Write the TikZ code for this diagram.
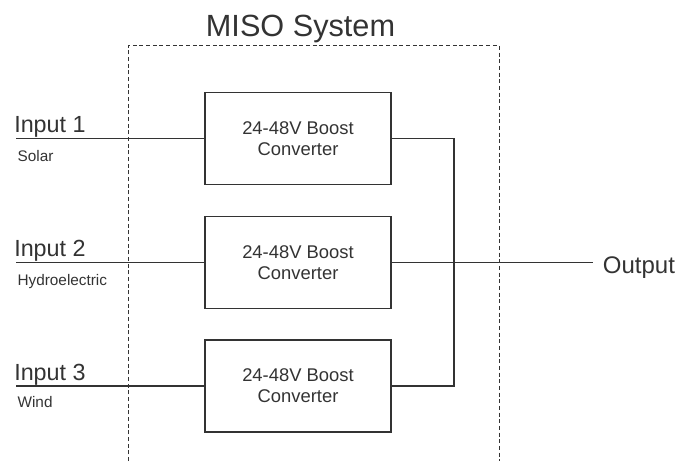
\documentclass[tikz,border=0pt]{standalone}
\usepackage{fontspec}
\setmainfont{Liberation Sans}
\usepackage{tikz}
\usetikzlibrary{positioning}
\definecolor{ink}{HTML}{333333}
\tikzstyle{block} = [draw=ink, line width=1pt, rectangle, minimum width=139.5pt, minimum height=69pt, inner sep=0pt, align=center, text=ink, font=\fontsize{13.8}{15.75}\selectfont]
\tikzstyle{wire} = [draw=ink, line width=1pt]
\tikzstyle{frame} = [draw=ink, line width=0.75pt, dash pattern=on 3pt off 2pt]
\tikzstyle{inlabel} = [anchor=base west, inner sep=0pt, text=ink, font=\fontsize{17.5}{21}\selectfont]
\tikzstyle{source} = [anchor=base west, inner sep=0pt, text=ink, font=\fontsize{11.5}{14}\selectfont]
\newcommand{\boost}{24-48V Boost\\Converter}

\begin{document}
\begin{tikzpicture}[x=0.75pt, y=-0.75pt]
  \useasboundingbox (0,0) rectangle (680,461);

  % system boundary, open at the bottom
  \node[anchor=base, inner sep=0pt, text=ink, font=\fontsize{23}{28}\selectfont] (title) at (300.5,36.7) {MISO System};
  \draw[frame] (128.3,461) |- (499,45.5) -- (499,461);

  % converters
  \node[block] (conv1) at (298,138.5) {\boost};
  \node[block, below=22.8pt of conv1] (conv2) {\boost};
  \node[block, below=22.8pt of conv2] (conv3) {\boost};

  % inputs
  \coordinate (in1) at (16,138.5);
  \coordinate (in2) at (in1 |- conv2.west);
  \coordinate (in3) at (in1 |- conv3.west);
  \draw[wire] (in1) -- (conv1.west);
  \draw[wire] (in2) -- (conv2.west);
  \draw[wire] (in3) -- (conv3.west);
  \node[inlabel] (lab1) at ([xshift=-1.5pt, yshift=4.2pt]in1) {Input 1};
  \node[inlabel] (lab2) at ([xshift=-1.5pt, yshift=4.2pt]in2) {Input 2};
  \node[inlabel] (lab3) at ([xshift=-1.5pt, yshift=4.2pt]in3) {Input 3};
  \node[source] (src1) at ([xshift=1pt, yshift=-17.2pt]in1) {Solar};
  \node[source] (src2) at ([xshift=1pt, yshift=-17.2pt]in2) {Hydroelectric};
  \node[source] (src3) at ([xshift=1pt, yshift=-16pt]in3) {Wind};

  % outputs joined together
  \draw[wire] (conv1.east) -- ++(62.3,0) |- (conv3.east);
  \coordinate (out) at ([xshift=150.75pt]conv2.east);
  \draw[wire] (conv2.east) -- (out);
  \node[anchor=base west, inner sep=0pt, text=ink, font=\fontsize{18}{22}\selectfont] (output) at ([xshift=7.5pt, yshift=-8.25pt]out) {Output};
\end{tikzpicture}
\end{document}
